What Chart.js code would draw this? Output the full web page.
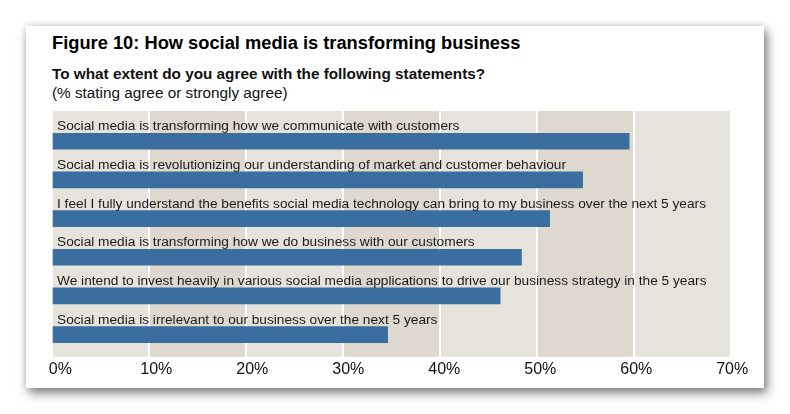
<!DOCTYPE html>
<html>
<head>
<meta charset="utf-8">
<script src="https://cdn.jsdelivr.net/npm/chart.js@4.4.1/dist/chart.umd.min.js"></script>
<style>
    body { margin: 0; background: #fff; width: 790px; height: 414px; overflow: hidden; font-family: "Liberation Sans", Arial, sans-serif; }
    .card {
        position: absolute; left: 26px; top: 26px; width: 738px; height: 362px;
        background: #fff; box-shadow: 3px 5px 10px rgba(0, 0, 0, 0.5), 0 0 8px rgba(0, 0, 0, 0.12);
    }
    .title { position: absolute; left: 26px; top: 6px; font-size: 18.3px; font-weight: bold; color: #000; white-space: nowrap; }
    .sub { position: absolute; left: 26px; top: 38px; font-size: 15.3px; color: #111; line-height: 19px; white-space: nowrap; }
    .sub b { font-weight: bold; }
    .wrap { position: absolute; left: 0; top: 79px; width: 738px; height: 283px; }
</style>
</head>
<body>
<div class="card">
    <div class="title">Figure 10: How social media is transforming business</div>
    <div class="sub"><b>To what extent do you agree with the following statements?</b><br>(% stating agree or strongly agree)</div>
    <div class="wrap"><canvas id="chart" width="738" height="283"></canvas></div>
</div>
<script>
const statements = [
    "Social media is transforming how we communicate with customers",
    "Social media is revolutionizing our understanding of market and customer behaviour",
    "I feel I fully understand the benefits social media technology can bring to my business over the next 5 years",
    "Social media is transforming how we do business with our customers",
    "We intend to invest heavily in various social media applications to drive our business strategy in the 5 years",
    "Social media is irrelevant to our business over the next 5 years"
];
const agreePct = [59.5, 54.7, 51.3, 48.4, 46.2, 34.6];
const tickValues = [0, 10, 20, 30, 40, 50, 60, 70];

const bandLight = "#e6e2dc";
const bandDark = "#dfd8ce";

// alternating column bands behind the bars
const bandsPlugin = {
    id: "bands",
    beforeDraw(chart) {
        const { ctx, chartArea } = chart;
        const x = chart.scales.x;
        ctx.save();
        for (let i = 0; i < tickValues.length - 1; i++) {
            const x0 = x.getPixelForValue(tickValues[i]);
            const x1 = x.getPixelForValue(tickValues[i + 1]);
            ctx.fillStyle = i % 2 === 0 ? bandLight : bandDark;
            ctx.fillRect(x0, chartArea.top, x1 - x0, chartArea.bottom - chartArea.top);
        }
        ctx.restore();
    }
};

// statement text sits just above each bar
const statementLabels = {
    id: "statementLabels",
    afterDatasetsDraw(chart) {
        const { ctx } = chart;
        const meta = chart.getDatasetMeta(0);
        ctx.save();
        ctx.font = "13.7px 'Liberation Sans', Arial, sans-serif";
        ctx.fillStyle = "#1a1a1a";
        ctx.textBaseline = "alphabetic";
        meta.data.forEach((bar, i) => {
            ctx.fillText(statements[i], chart.chartArea.left + 5, bar.y - bar.height / 2 - 3);
        });
        ctx.restore();
    }
};

new Chart(document.getElementById("chart"), {
    type: "bar",
    data: {
        datasets: [{
            data: agreePct.map((v, i) => ({ x: v, y: i })),
            backgroundColor: "#3a6e9e",
            barThickness: 16,
            borderWidth: 0
        }]
    },
    options: {
        indexAxis: "y",
        responsive: false,
        animation: false,
        layout: { padding: { left: 26, right: 33, top: 6, bottom: 6 } },
        plugins: { legend: { display: false }, tooltip: { enabled: false } },
        scales: {
            x: {
                type: "linear",
                min: 0,
                max: 70,
                bounds: "data",
                afterBuildTicks: axis => { axis.ticks = tickValues.map(v => ({ value: v })); },
                grid: { color: "#ffffff", lineWidth: 2, drawTicks: false },
                border: { display: false },
                ticks: { display: false }
            },
            // label row of the original sits slightly off the grid, spaced a bit tighter
            xLabels: {
                type: "linear",
                position: "bottom",
                axis: "x",
                min: -0.865,
                max: 69.872,
                bounds: "data",
                afterBuildTicks: axis => { axis.ticks = tickValues.map(v => ({ value: v })); },
                grid: { display: false, drawTicks: false },
                border: { display: false },
                ticks: {
                    padding: 3,
                    color: "#111",
                    font: { family: "'Liberation Sans', Arial, sans-serif", size: 16 },
                    callback: v => v + "%"
                }
            },
            y: {
                type: "linear",
                reverse: true,
                offset: false,
                bounds: "data",
                min: -0.781,
                max: 5.573,
                display: false
            }
        }
    },
    plugins: [bandsPlugin, statementLabels]
});
</script>
</body>
</html>
